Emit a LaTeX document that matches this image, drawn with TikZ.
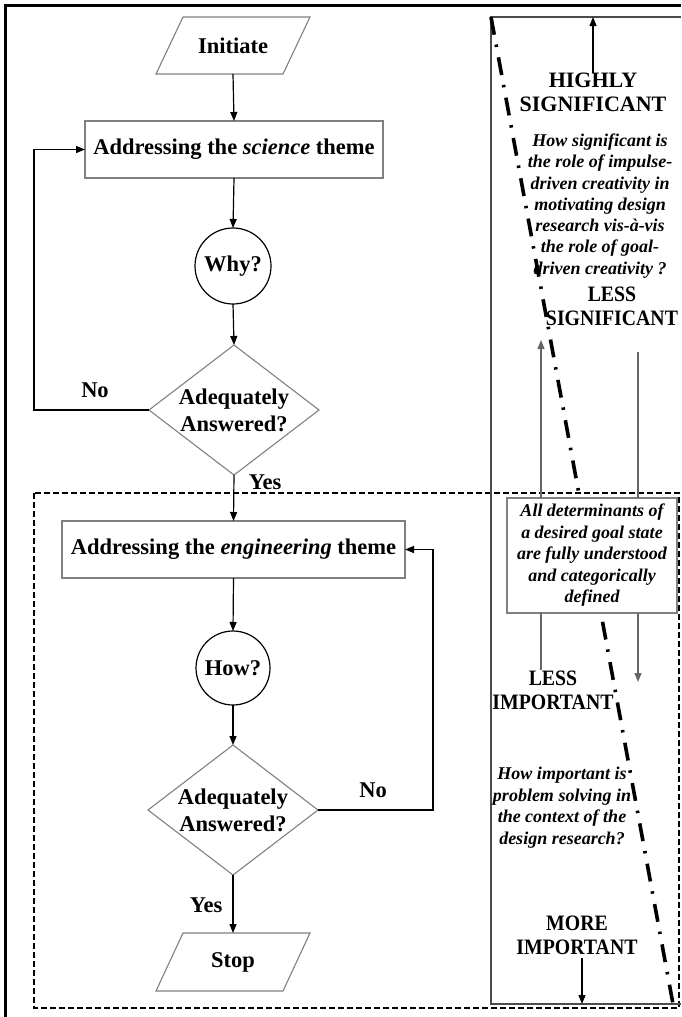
\documentclass[tikz,border=0pt]{standalone}
\usepackage{fontspec}
\setmainfont{Liberation Serif}
\newfontfamily\narrowserif[FakeStretch=0.9]{Liberation Serif}
\usetikzlibrary{arrows.meta,calc}

\begin{document}
\begin{tikzpicture}[x=1pt,y=-1pt,
  every node/.style={inner sep=0pt,outer sep=0pt},
  boxline/.style={draw=black!50,line width=1.1pt},
  flowtext/.style={font=\fontsize{22.5}{27}\selectfont\bfseries,align=center},
  tag/.style={font=\fontsize{22.5}{24}\selectfont\bfseries},
  scalelabel/.style={font=\fontsize{22}{24}\selectfont\bfseries,align=center},
  narrowlabel/.style={font=\narrowserif\fontsize{22}{24}\selectfont\bfseries,align=center},
  note/.style={font=\fontsize{18}{21.5}\selectfont\bfseries\itshape,align=center},
  arr/.style={line width=1.2pt,-{Triangle[length=9pt,width=7pt]}},
  guide/.style={draw=black!60,line width=1.3pt},
  panel/.style={draw=black!70,line width=1.8pt},
  dashedframe/.style={draw=black,line width=2.5pt,dash pattern=on 6pt off 3pt},
  dashdotline/.style={draw=black,line width=3.6pt,dash pattern=on 18pt off 10pt on 2.5pt off 10.5pt}
]
\useasboundingbox (0,0) rectangle (681,1017);

% outer frame (top and left edges inside the page)
\draw[line width=3pt] (5,1017) -- (5,5) -- (681,5);

% dashed engineering region
\draw[dashedframe] (34,493) rectangle (679,1008);

% right-hand scale panel
\coordinate (pTL) at (491,17);
\coordinate (pTR) at (681,17);
\coordinate (pBL) at (491,1004);
\coordinate (pBR) at (681,1004);
\coordinate (ddEnd) at (673,1004);
\draw[panel] (pTR) -- (pTL) -- (pBL) -- (pBR);
\draw[dashdotline] (pTL) -- (ddEnd);

% ---------- flowchart ----------
\node[flowtext,minimum width=154pt,minimum height=57pt] (init) at (233,45.5) {Initiate};
\draw[boxline] (init.south west) -- ($(init.south east)+(-27,0)$) -- (init.north east)
  -- ($(init.north west)+(27,0)$) -- cycle;

\node[flowtext,boxline,minimum width=298pt,minimum height=57pt] (sci) at (234,149.5)
  {Addressing the \textit{science} theme};

\node[flowtext,draw=black,line width=1.2pt,circle,minimum size=76pt] (why) at (233,266) {Why?};

\node[flowtext,minimum width=170pt,minimum height=130pt] (q1) at (234,410) {Adequately\\Answered?};
\draw[boxline] (q1.north) -- (q1.east) -- (q1.south) -- (q1.west) -- cycle;

\node[flowtext,boxline,minimum width=343pt,minimum height=57pt] (eng) at (233.5,549.5)
  {Addressing the \textit{engineering} theme};

\node[flowtext,draw=black,line width=1.2pt,circle,minimum size=74pt] (how) at (233,668) {How?};

\node[flowtext,minimum width=170pt,minimum height=130pt] (q2) at (233,810) {Adequately\\Answered?};
\draw[boxline] (q2.north) -- (q2.east) -- (q2.south) -- (q2.west) -- cycle;

\node[flowtext,minimum width=154pt,minimum height=58pt] (stop) at (233,962) {Stop};
\draw[boxline] (stop.south west) -- ($(stop.south east)+(-27,0)$) -- (stop.north east)
  -- ($(stop.north west)+(27,0)$) -- cycle;

% flow connectors
\draw[arr] (init.south) -- (sci.north);
\draw[arr] (sci.south) -- (why.north);
\draw[arr] (why.south) -- (q1.north);
\draw[arr] (q1.west) -- ++(-115,0) |- (sci.west);
\draw[arr] (q1.south) -- (eng.north);
\draw[arr] (eng.south) -- (how.north);
\draw[arr] (how.south) -- (q2.north);
\draw[arr] (q2.east) -- ++(115,0) |- (eng.east);
\draw[arr] (q2.south) -- (stop.north);

\node[tag] (no1) at (95,390) {No};
\node[tag] (yes1) at (265,482) {Yes};
\node[tag] (no2) at (373,790) {No};
\node[tag] (yes2) at (206,905) {Yes};

% ---------- scale panel texts ----------
\node[scalelabel] (hs) at (593,92.5) {HIGHLY\\SIGNIFICANT};
\draw[arr] (hs.north) -- (hs.north |- pTL);

\node[note,font=\fontsize{18}{21.3}\selectfont\bfseries\itshape] (qsig) at (600,206)
  {How significant is\\the role of impulse-\\driven creativity in\\motivating design\\research vis-à-vis\\the role of goal-\\driven creativity ?};

\node[narrowlabel] (ls) at (612,306) {LESS\\SIGNIFICANT};

\node[note,boxline,fill=white,minimum width=170pt,minimum height=115pt] (det) at (592,555.5)
  {All determinants of\\a desired goal state\\are fully understood\\and categorically\\defined};

\coordinate (upTip) at (541,340);
\coordinate (downTop) at (638,352);
\coordinate (downTip) at (638,682);
\coordinate (upFoot) at (541,670);
\draw[guide] (upFoot) -- (det.south -| upFoot);
\draw[guide,arr,draw=black!60] (det.north -| upTip) -- (upTip);
\draw[guide] (downTop) -- (det.north -| downTop);
\draw[guide,arr,draw=black!60] (det.south -| downTip) -- (downTip);

\node[narrowlabel] (li) at (553,690) {LESS\\IMPORTANT};

\node[note] (qimp) at (562,807.5)
  {How important is\\problem solving in\\the context of the\\design research?};

\node[narrowlabel] (mi) at (577,935) {MORE\\IMPORTANT};
\draw[arr] ($(mi.south)+(5,4)$) -- ($(mi.south |- pBL)+(5,0)$);

\end{tikzpicture}
\end{document}
